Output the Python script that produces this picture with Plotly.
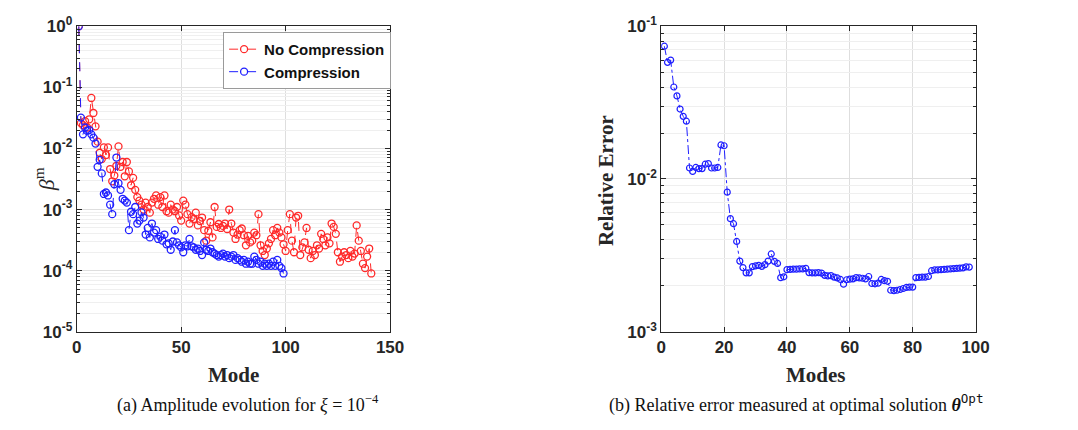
import plotly.graph_objects as go

# ---------------- data ----------------
red_vals = [1.0, 0.026, 0.024, 0.028, 0.022, 0.030, 0.067, 0.038, 0.023, 0.0129,
            0.0085, 0.0067, 0.0104, 0.0078, 0.0104, 0.0046, 0.0029, 0.0036, 0.0052, 0.0108,
            0.0050, 0.0060, 0.0035, 0.0060, 0.0042, 0.0025, 0.0033, 0.0021, 0.0016, 0.0014,
            0.0012, 0.0010, 0.0013, 0.0011, 0.00089, 0.0013, 0.0015, 0.0017, 0.0012, 0.0016,
            0.0011, 0.0017, 0.00094, 0.00089, 0.0012, 0.0010, 0.00094, 0.0011, 0.0008, 0.00066,
            0.0014, 0.0012, 0.00084, 0.00059, 0.00075, 0.0007, 0.00089, 0.00055, 0.00065, 0.00074,
            0.00046, 0.00031, 0.00045, 0.00062, 0.00035, 0.0011, 0.00052, 0.00058, 0.0005, 0.00054,
            0.00059, 0.00048, 0.0010, 0.00059, 0.00042, 0.00033, 0.00039, 0.00046, 0.00049, 0.00038,
            0.00026, 0.00037, 0.00029, 0.00031, 0.00042, 0.00038, 0.00084, 0.00026, 0.00021, 0.00018,
            0.00023, 0.00028, 0.00033, 0.00046, 0.00038, 0.0005, 0.00042, 0.00035, 0.00027, 0.00021,
            0.00046, 0.00084, 0.00031, 0.0002, 0.00074, 0.00079, 0.00018, 0.00024, 0.00029, 0.0005,
            0.00022, 0.00016, 0.00021, 0.00018, 0.00026, 0.00023, 0.0004, 0.00033, 0.00026, 0.00035,
            0.00028, 0.00059, 0.00052, 0.0004, 0.0002, 0.00014, 0.00017, 0.0002, 0.00018, 0.00016,
            0.00021, 0.00017, 0.00019, 0.00055, 0.00031, 0.00021, 0.00013, 0.00011, 0.00017, 0.00023,
            0.00009]
blue_vals = [1.0, 0.032, 0.017, 0.022, 0.0195, 0.020, 0.017, 0.015, 0.012, 0.0050,
             0.0065, 0.0039, 0.0018, 0.0019, 0.0017, 0.0012, 0.00084, 0.0026, 0.0071, 0.0027,
             0.0021, 0.0015, 0.0014, 0.0013, 0.00046, 0.00092, 0.00084, 0.0011, 0.00059, 0.00066,
             0.0009, 0.00074, 0.00039, 0.0005, 0.00035, 0.00059, 0.00042, 0.00046, 0.00033, 0.00036,
             0.00031, 0.00039, 0.00027, 0.00028, 0.00022, 0.00030, 0.00046, 0.00029, 0.00026, 0.00024,
             0.0002, 0.00026, 0.00025, 0.00033, 0.00025, 0.00024, 0.00022, 0.00023, 0.00021, 0.00018,
             0.00029, 0.00022, 0.00021, 0.00023, 0.0002, 0.00019, 0.00018, 0.00017, 0.00018, 0.00019,
             0.00017, 0.00018, 0.00016, 0.00017, 0.00018, 0.00015, 0.00016, 0.00015, 0.00014, 0.00015,
             0.00013, 0.00014, 0.00013, 0.00013, 0.00017, 0.00015, 0.00013, 0.00014, 0.00012, 0.00013,
             0.00012, 0.00013, 0.00012, 0.00014, 0.00012, 0.00015, 0.00012, 0.00011, 0.00009]
rel_err = [0.074, 0.058, 0.060, 0.040, 0.035, 0.0287, 0.0257, 0.0239, 0.0118, 0.0112,
           0.0119, 0.0117, 0.0117, 0.0125, 0.0126, 0.0118, 0.0118, 0.0119, 0.0167, 0.0165,
           0.0082, 0.0055, 0.0051, 0.0039, 0.0029, 0.00263, 0.00243, 0.00243, 0.00267, 0.0027,
           0.00272, 0.00268, 0.00275, 0.0029, 0.00323, 0.00289, 0.0028, 0.00226, 0.00229, 0.00255,
           0.00256, 0.00257, 0.00257, 0.00258, 0.00258, 0.0026, 0.00244, 0.00243, 0.00243, 0.00244,
           0.00242, 0.00234, 0.00232, 0.00233, 0.00228, 0.00225, 0.0022, 0.00205, 0.00219, 0.00221,
           0.00222, 0.00226, 0.00225, 0.00224, 0.00222, 0.0023, 0.00207, 0.00206, 0.00208, 0.0022,
           0.00216, 0.00214, 0.00187, 0.00186, 0.00187, 0.00189, 0.00192, 0.00195, 0.00196, 0.00196,
           0.00226, 0.00227, 0.00228, 0.00228, 0.0023, 0.00251, 0.00254, 0.00254, 0.00255, 0.00256,
           0.00257, 0.00258, 0.00259, 0.0026, 0.00261, 0.00262, 0.00266, 0.00265]
red_modes = list(range(1, len(red_vals) + 1))
blue_modes = list(range(1, len(blue_vals) + 1))
err_modes = list(range(1, len(rel_err) + 1))

left_xticks = [0, 50, 100, 150]
right_xticks = [0, 20, 40, 60, 80, 100]
left_decades = [-5, -4, -3, -2, -1, 0]
right_decades = [-3, -2, -1]

RED = "#ff2a2a"
BLUE = "#1f1fff"
INK = "#262626"
TICKFONT = dict(family="Liberation Sans", size=17, color=INK)

def major_ticks(decs):
    return [10.0 ** d for d in decs]

def minor_ticks(decs):
    vals = []
    for d in decs[:-1]:
        for m in range(2, 10):
            vals.append(m * 10.0 ** d)
    return vals

fig = go.Figure()
# empty helper traces so the minor-grid overlay axes get drawn
fig.add_trace(go.Scatter(x=[], y=[], xaxis="x", yaxis="y3", showlegend=False, hoverinfo="skip"))
fig.add_trace(go.Scatter(x=[], y=[], xaxis="x2", yaxis="y4", showlegend=False, hoverinfo="skip"))
fig.add_trace(go.Scatter(x=red_modes, y=red_vals, name="<b>No Compression</b>",
                         mode="lines+markers",
                         line=dict(color=RED, width=1, dash="dash"),
                         marker=dict(symbol="circle-open", size=7, color=RED, line=dict(width=1.3)),
                         xaxis="x", yaxis="y"))
fig.add_trace(go.Scatter(x=blue_modes, y=blue_vals, name="<b>Compression</b>",
                         mode="lines+markers",
                         line=dict(color=BLUE, width=1, dash="dash"),
                         marker=dict(symbol="circle-open", size=7, color=BLUE, line=dict(width=1.3)),
                         xaxis="x", yaxis="y"))
fig.add_trace(go.Scatter(x=err_modes, y=rel_err, name="err", showlegend=False,
                         mode="lines+markers",
                         line=dict(color=BLUE, width=1, dash="dashdot"),
                         marker=dict(symbol="circle-open", size=6, color=BLUE, line=dict(width=1.2)),
                         xaxis="x2", yaxis="y2"))

W, H = 1078, 430
def px(x): return x / W
def py(y): return 1 - y / H

axis_common = dict(showline=True, linecolor=INK, linewidth=1, mirror="ticks",
                   ticks="inside", ticklen=5, tickcolor=INK,
                   showgrid=True, gridcolor="#dedede", gridwidth=1, zeroline=False,
                   tickfont=TICKFONT)
minor_common = dict(showline=False, mirror="ticks", ticks="inside", ticklen=3, tickcolor=INK,
                    showgrid=True, gridcolor="#efefef", gridwidth=1, zeroline=False,
                    showticklabels=False, type="log", side="left")

LD = [py(337), py(15)]
fig.update_layout(
    width=W, height=H, margin=dict(l=0, r=0, t=0, b=0),
    paper_bgcolor="white", plot_bgcolor="white",
    showlegend=True,
    legend=dict(x=px(222), y=py(21), xanchor="left", yanchor="top",
                bgcolor="white", bordercolor="#9a9a9a", borderwidth=1,
                font=dict(family="Liberation Sans", size=15, color="#111"),
                itemwidth=30, tracegroupgap=0),
    xaxis=dict(domain=[px(73), px(392)], range=[0, 150], tickvals=left_xticks,
               ticktext=[f"<b>{v}</b>" for v in left_xticks], anchor="y", **axis_common),
    yaxis=dict(domain=LD, type="log", range=[-5, 0], tickvals=major_ticks(left_decades),
               ticktext=[f"<b>10<sup>{e}</sup></b>" for e in left_decades], anchor="x",
               **axis_common),
    yaxis3=dict(domain=LD, range=[-5, 0], tickvals=minor_ticks(left_decades),
                overlaying="y", anchor="x", **minor_common),
    xaxis2=dict(domain=[px(668), px(988)], range=[0, 100], tickvals=right_xticks,
                ticktext=[f"<b>{v}</b>" for v in right_xticks], anchor="y2", **axis_common),
    yaxis2=dict(domain=LD, type="log", range=[-3, -1], tickvals=major_ticks(right_decades),
                ticktext=[f"<b>10<sup>{e}</sup></b>" for e in right_decades], anchor="x2",
                **axis_common),
    yaxis4=dict(domain=LD, range=[-3, -1], tickvals=minor_ticks(right_decades),
                overlaying="y2", anchor="x2", **minor_common),
)

serif = "Liberation Serif"
anns = [
    dict(text="<b>Mode</b>", x=px(233), y=py(383), font=dict(family=serif, size=21, color=INK)),
    dict(text="<b>Modes</b>", x=px(826), y=py(383), font=dict(family=serif, size=21, color=INK)),
    dict(text="<i>β</i><sup>m</sup>", x=px(40), y=py(176), textangle=-90,
         font=dict(family=serif, size=22, color=INK)),
    dict(text="<b>Relative Error</b>", x=px(612), y=py(178), textangle=-90,
         font=dict(family=serif, size=21, color=INK)),
    dict(text="(a) Amplitude evolution for <i>ξ</i> = 10<sup>−4</sup>", x=px(247), y=py(413),
         font=dict(family=serif, size=18, color="#111")),
    dict(text="(b) Relative error measured at optimal solution <b><i>θ</i></b>"
              "<sup><span style='font-family:DejaVu Sans Mono'>Opt</span></sup>",
         x=px(806), y=py(413), font=dict(family=serif, size=18, color="#111")),
]
for a in anns:
    fig.add_annotation(xref="paper", yref="paper", showarrow=False, xanchor="center",
                       yanchor="middle", **a)

fig.write_html("out.html")
